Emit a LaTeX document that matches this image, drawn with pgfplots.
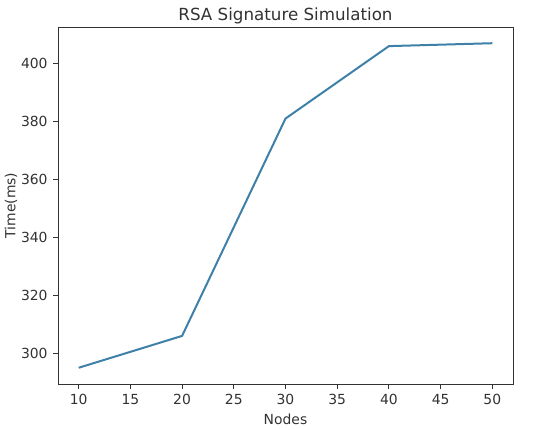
\documentclass[border=0pt]{standalone}
\usepackage{pgfplots}
\pgfplotsset{compat=1.18}
\usepackage{fontspec}
\setmainfont{DejaVu Sans}
\definecolor{mplblue}{RGB}{62,128,168}
\definecolor{axgray}{RGB}{50,50,50}
\begin{document}
\begin{tikzpicture}[x=1pt,y=1pt]
\useasboundingbox (0,0) rectangle (550,430);
\begin{axis}[
  at={(58pt,46pt)}, anchor=south west,
  scale only axis, width=455pt, height=357pt,
  xmin=8, xmax=52, ymin=289.4, ymax=412.6,
  xtick={10,15,20,25,30,35,40,45,50},
  ytick={300,320,340,360,380,400},
  tick align=outside, tick pos=left,
  major tick length=4.9pt,
  every tick/.style={axgray, line width=0.9pt},
  axis line style={axgray, line width=0.9pt},
  /pgf/number format/assume math mode=true,
  tick label style={font=\fontsize{13.9}{16}\selectfont, text=axgray},
  xticklabel style={yshift=-2pt},
  yticklabel style={xshift=-2pt},
  title={RSA Signature Simulation},
  title style={font=\fontsize{16.7}{19}\selectfont, text=axgray, yshift=-7pt},
  xlabel={Nodes}, ylabel={Time(ms)},
  label style={font=\fontsize{13.9}{16}\selectfont, text=axgray},
  xlabel style={yshift=-2pt},
  ylabel style={yshift=-3pt},
]
\addplot[mplblue, line width=2pt, mark=none] coordinates {(10,295) (20,306) (30,381) (40,406) (50,407)};
\end{axis}
\end{tikzpicture}
\end{document}
